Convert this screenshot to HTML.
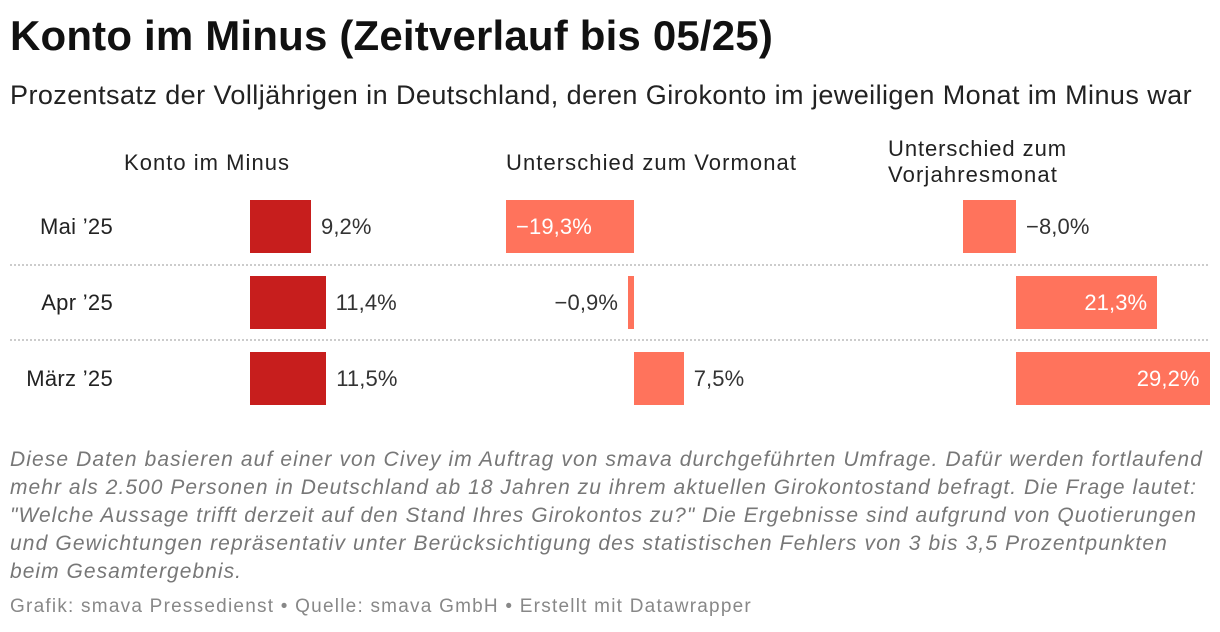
<!DOCTYPE html>
<html><head><meta charset="utf-8"><style>
body{margin:0;width:1220px;height:632px;background:#fff;font-family:"Liberation Sans",sans-serif;color:#333;position:relative;overflow:hidden}
.a{position:absolute;white-space:nowrap}
h1{position:absolute;left:10px;top:12px;margin:0;font-size:42px;font-weight:bold;color:#111;white-space:nowrap}
.sub{left:10px;top:80px;font-size:27px;color:#222}
.hd{font-size:22px;color:#222;line-height:25px}
.rl{font-size:22px;color:#222;text-align:right;left:10px}
.v{font-size:22px;line-height:53px}
.sep{position:absolute;left:10px;width:1198px;border-top:2px dotted #ccc;height:0}
.nl{left:10px;font-size:21px;font-style:italic;color:#777}
.foot{left:10px;top:596px;font-size:19px;color:#888}
</style></head><body>
<h1 data-w="763">Konto im Minus (Zeitverlauf bis 05/25)</h1>
<div class="a sub" data-w="1182">Prozentsatz der Volljährigen in Deutschland, deren Girokonto im jeweiligen Monat im Minus war</div>
<div class="a hd" style="left:124px;top:150px" data-w="166">Konto im Minus</div>
<div class="a hd" style="left:506px;top:150px" data-w="291">Unterschied zum Vormonat</div>
<div class="a hd" style="left:888px;top:136px" data-w="179">Unterschied zum</div>
<div class="a hd" style="left:888px;top:162px" data-w="170">Vorjahresmonat</div>
<div class="sep" style="top:264px"></div>
<div class="sep" style="top:339px"></div>
<div id="chart"></div>
<div>
<div class="a nl" style="top:448px" data-w="1193">Diese Daten basieren auf einer von Civey im Auftrag von smava durchgeführten Umfrage. Dafür werden fortlaufend</div>
<div class="a nl" style="top:476px" data-w="1187">mehr als 2.500 Personen in Deutschland ab 18 Jahren zu ihrem aktuellen Girokontostand befragt. Die Frage lautet:</div>
<div class="a nl" style="top:504px" data-w="1187">"Welche Aussage trifft derzeit auf den Stand Ihres Girokontos zu?" Die Ergebnisse sind aufgrund von Quotierungen</div>
<div class="a nl" style="top:532px" data-w="1158">und Gewichtungen repräsentativ unter Berücksichtigung des statistischen Fehlers von 3 bis 3,5 Prozentpunkten</div>
<div class="a nl" style="top:560px" data-w="232">beim Gesamtergebnis.</div>
</div>
<div class="a foot" data-w="742">Grafik: smava Pressedienst • Quelle: smava GmbH • Erstellt mit Datawrapper</div>
<script>
const categories=["Mai ’25","Apr ’25","März ’25"];
const kontoValues=[9.2,11.4,11.5];
const vormonatValues=[-19.3,-0.9,7.5];
const vorjahrValues=[-8.0,21.3,29.2];
const rowTops=[200,276,352], barH=53, scale=6.63;
const root=document.getElementById('chart');
function fmt(v){return (v<0?'−':'')+Math.abs(v).toFixed(1).replace('.',',')+'%';}
function add(cls,style,text){const d=document.createElement('div');d.className='a '+cls;d.style.cssText=style;if(text!==undefined)d.textContent=text;root.appendChild(d);return d;}
categories.forEach((c,i)=>{
  const t=rowTops[i];
  const l=add('rl v','top:'+t+'px;width:103px;letter-spacing:0.3px',c);
  
  
  const w=kontoValues[i]*scale;
  const b=add('','left:250px;top:'+t+'px;width:'+w+'px;height:'+barH+'px;background:#c71e1d');
  
  
  const lb=add('v','left:'+(250+w+10)+'px;top:'+t+'px;letter-spacing:0.1px',fmt(kontoValues[i]));
  
  
  [[vormonatValues,634,'vormonat'],[vorjahrValues,1016,'vorjahr']].forEach(([arr,z,nm])=>{
    const v=arr[i],bw=Math.abs(v)*scale,x=v<0?z-bw:z;
    const bar=add('','left:'+x+'px;top:'+t+'px;width:'+bw+'px;height:'+barH+'px;background:#ff735c');
    
    
    let st,col='#333';
    if(bw>90){col='#fff';st=v<0?'left:'+(x+10)+'px':'left:'+(z+bw-10)+'px;transform:translateX(-100%)';}
    else if(v<0&&bw>30){st='left:'+(z+10)+'px';}
    else if(v<0){st='left:'+(x-10)+'px;transform:translateX(-100%)';}
    else{st='left:'+(z+bw+10)+'px';}
    const vl=add('v',st+';top:'+t+'px;letter-spacing:0.1px;color:'+col,fmt(v));
    
    
  });
});
document.querySelectorAll('[data-w]').forEach(el=>{
  const target=+el.getAttribute('data-w');const n=el.textContent.length;if(!n)return;
  const r=document.createRange();r.selectNodeContents(el);const w=r.getBoundingClientRect().width;
  el.style.letterSpacing=((target-w)/n)+'px';
});
</script>
</body></html>
